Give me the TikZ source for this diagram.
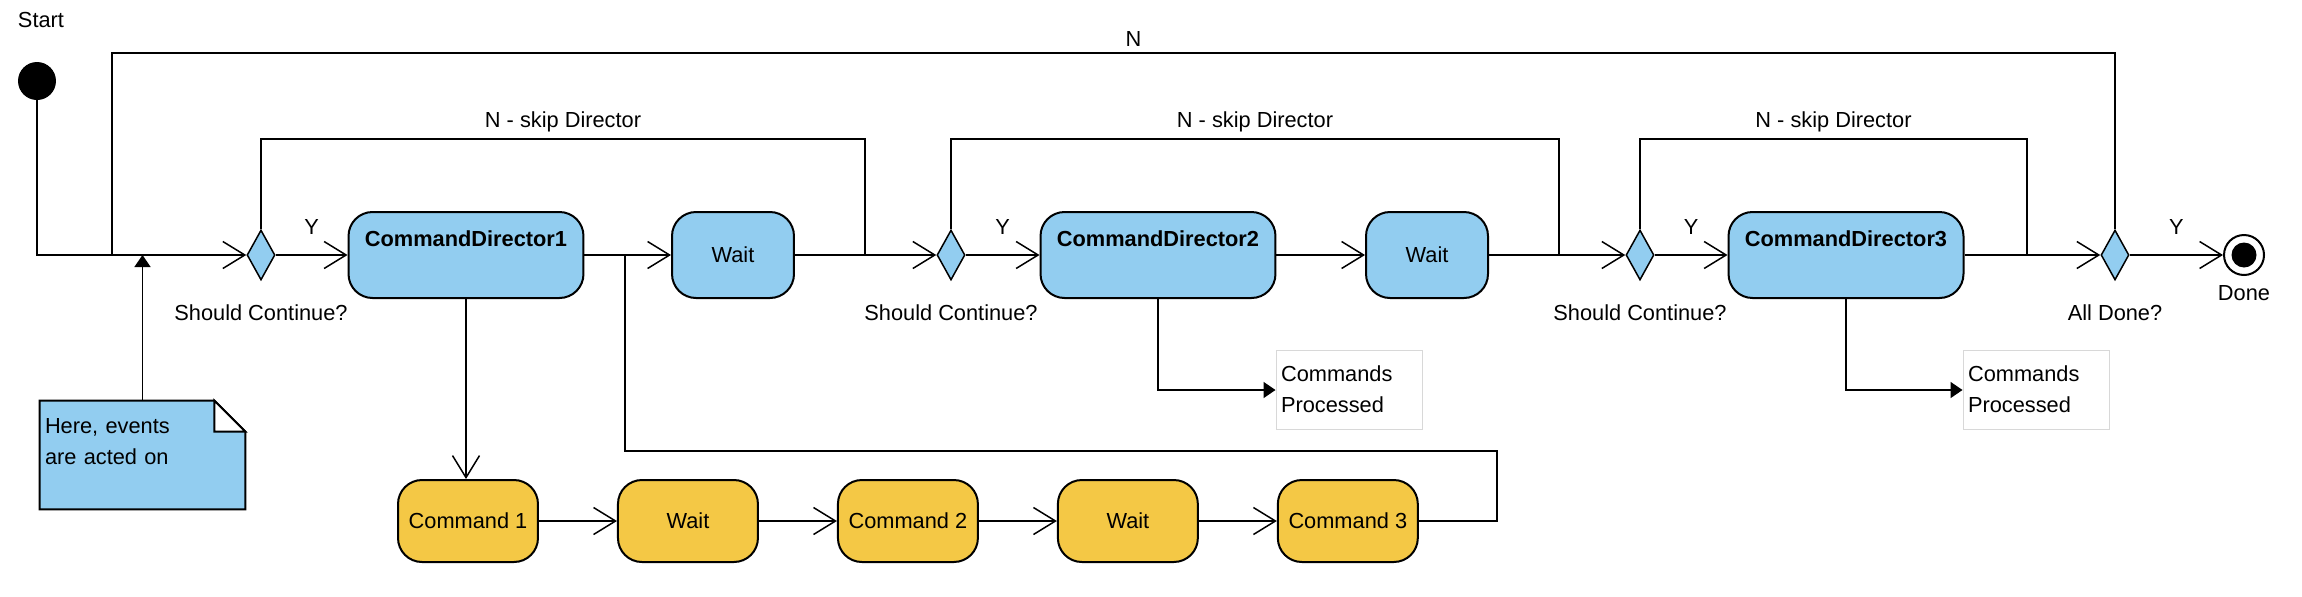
\documentclass[tikz,border=0pt]{standalone}
\usepackage{fontspec}
\setmainfont{Liberation Sans}
\usepackage{xcolor}
\usepackage{tikz}
\usetikzlibrary{positioning,arrows.meta,shapes.geometric,backgrounds}
\definecolor{actblue}{RGB}{146,205,240}
\definecolor{actyellow}{RGB}{244,200,69}
\definecolor{actgray}{RGB}{216,216,216}
\newcommand{\actfont}{\fontsize{12.4}{18.2}\selectfont}
\tikzset{
  director/.style={rounded corners=0.48cm, draw, line width=0.04cm, fill=actblue, minimum width=4.7cm, minimum height=1.72cm, font=\actfont\bfseries, text height=0.32cm, text depth=0.68cm},
  waitbox/.style={rounded corners=0.48cm, draw, line width=0.04cm, fill=actblue, minimum width=2.44cm, minimum height=1.72cm},
  cmd/.style={rounded corners=0.48cm, draw, line width=0.04cm, fill=actyellow, minimum width=2.8cm, minimum height=1.64cm},
  decision/.style={diamond, draw, line width=0.03cm, fill=actblue, inner sep=0pt, minimum width=0.56cm, minimum height=1cm},
  outbox/.style={draw=actgray, line width=0.02cm, align=left, text width=2.72cm, inner xsep=0.1cm, minimum height=1.58cm, text height=0.32cm, text depth=0.68cm},
  notebox/.style={align=left, text width=3.9cm, inner xsep=0.1cm, minimum height=2.16cm, text height=0.32cm, text depth=1.2cm},
  lbl/.style={inner sep=0pt},
  qlbl/.style={inner sep=0pt, yshift=-0.48cm},
  looplbl/.style={above=0.12cm, inner sep=0pt},
  ylbl/.style={above=0.4cm, inner sep=0pt},
  wire/.style={line width=0.03cm},
  flow/.style={-{Straight Barb[length=0.44cm, width=0.54cm]}, line width=0.03cm},
  ptr/.style={-{Triangle[length=0.24cm, width=0.32cm]}, line width=0.03cm},
}

\begin{document}
\begin{tikzpicture}[x=0.02cm, y=-0.02cm, font=\actfont]
    \useasboundingbox (0,0) rectangle (2302,596);
    % start and top row
    \node[lbl] (startlbl) at (41,20) {Start};
    \node[circle, fill=black, minimum size=0.76cm, inner sep=0pt] (start) at (37,81) {};
    \node[decision, label={[qlbl]below:Should Continue?}] (d1) at (261,255) {};
    \node[director] (cd1) at (466,255) {CommandDirector1};
    \node[waitbox] (w1) at (733,255) {Wait};
    \node[decision, label={[qlbl]below:Should Continue?}] (d2) at (951,255) {};
    \node[director] (cd2) at (1158,255) {CommandDirector2};
    \node[waitbox] (w2) at (1427,255) {Wait};
    \node[decision, label={[qlbl]below:Should Continue?}] (d3) at (1640,255) {};
    \node[director] (cd3) at (1846,255) {CommandDirector3};
    \node[decision, label={[qlbl]below:All Done?}] (d4) at (2115,255) {};
    \node[circle, draw, line width=0.04cm, fill=white, minimum size=0.8cm, inner sep=0pt, label={[lbl, yshift=-0.18cm]below:Done}] (done) at (2244,255) {};
    \node[circle, fill=black, minimum size=0.5cm, inner sep=0pt] (donedot) at (done) {};
    % command row
    \node[cmd] (cmd1) at (468,521) {Command 1};
    \node[cmd, right=1.56cm of cmd1] (w3) {Wait};
    \node[cmd, right=1.56cm of w3] (cmd2) {Command 2};
    \node[cmd, right=1.56cm of cmd2] (w4) {Wait};
    \node[cmd, right=1.56cm of w4] (cmd3) {Command 3};
    % outputs and note
    \node[outbox] (cp2) at (1349,390) {Commands\\Processed};
    \node[outbox] (cp3) at (2036,390) {Commands\\Processed};
    \node[notebox] (note) at (142.5,455) {Here, events\\are acted on};
    \begin{scope}[on background layer]
      \draw[line width=0.04cm, fill=actblue] (note.north west) -- ([xshift=-0.62cm]note.north east) -- ([yshift=-0.62cm]note.north east) -- (note.south east) -- (note.south west) -- cycle;
      \draw[line width=0.04cm, fill=white] ([xshift=-0.62cm]note.north east) |- ([yshift=-0.62cm]note.north east) -- cycle;
    \end{scope}
    \coordinate (n0) at (112,255);
    \coordinate (j0) at (625,255);
    \coordinate (s1) at (865,255);
    \coordinate (s2) at (1559,255);
    \coordinate (s3) at (2027,255);
    % main flow
    \draw[flow] (start) |- (d1.west);
    \draw[flow] (d1) -- node[ylbl]{Y} (cd1);
    \draw[flow] (cd1) -- (w1);
    \draw[flow] (w1) -- (d2);
    \draw[flow] (d2) -- node[ylbl]{Y} (cd2);
    \draw[flow] (cd2) -- (w2);
    \draw[flow] (w2) -- (d3);
    \draw[flow] (d3) -- node[ylbl]{Y} (cd3);
    \draw[flow] (cd3) -- (d4);
    \draw[flow] (d4) -- node[ylbl]{Y} (done);
    % loops back
    \draw[wire] (d1.north) |- node[looplbl, pos=0.75]{N - skip Director} (s1 |- 0,139) -- (s1);
    \draw[wire] (d2.north) |- node[looplbl, pos=0.75]{N - skip Director} (s2 |- 0,139) -- (s2);
    \draw[wire] (d3.north) |- node[looplbl, pos=0.75]{N - skip Director} (s3 |- 0,139) -- (s3);
    \draw[wire] (d4.north) |- node[looplbl, pos=0.745]{N} (n0 |- 0,53) -- (n0);
    % commands
    \draw[flow] (cd1.south) -- (cd1.south |- cmd1.north);
    \draw[flow] (cmd1) -- (w3);
    \draw[flow] (w3) -- (cmd2);
    \draw[flow] (cmd2) -- (w4);
    \draw[flow] (w4) -- (cmd3);
    \draw[wire] (cmd3.east) -- ++(78,0) |- (j0 |- 0,451) -- (j0);
    \draw[ptr] (cd2.south) |- (cp2.west);
    \draw[ptr] (cd3.south) |- (cp3.west);
    \draw[ptr] (note.north) -- (note.north |- n0);
  \end{tikzpicture}
\end{document}
